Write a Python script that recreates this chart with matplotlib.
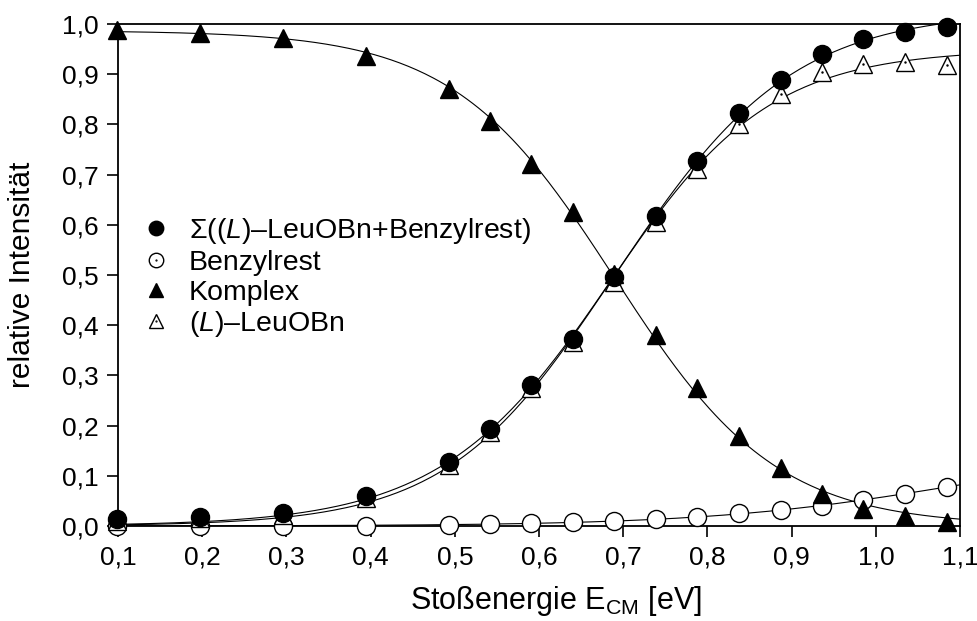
import numpy as np
import matplotlib
matplotlib.use("Agg")
import matplotlib.pyplot as plt
from matplotlib.legend_handler import HandlerTuple

plt.rcParams['font.family'] = ['Liberation Sans', 'DejaVu Sans']
plt.rcParams['mathtext.fontset'] = 'custom'
plt.rcParams['mathtext.rm'] = 'Liberation Sans'
plt.rcParams['mathtext.it'] = 'Liberation Sans:italic'
plt.rcParams['mathtext.default'] = 'regular'

# Collision energies E_CM in eV
energy = [0.0985, 0.197, 0.2955, 0.394, 0.4925, 0.542, 0.591, 0.640, 0.689,
          0.739, 0.788, 0.837, 0.887, 0.936, 0.985, 1.034, 1.084]

# Relative intensities
summe = [0.013, 0.018, 0.026, 0.060, 0.127, 0.193, 0.280, 0.373, 0.495,
         0.618, 0.727, 0.823, 0.889, 0.940, 0.970, 0.984, 0.993]
benzylrest = [0.0, 0.0, 0.0, 0.0, 0.001, 0.004, 0.005, 0.007, 0.010,
              0.014, 0.018, 0.025, 0.032, 0.040, 0.052, 0.064, 0.078]
komplex = [0.988, 0.982, 0.972, 0.937, 0.871, 0.807, 0.721, 0.625, 0.502,
           0.380, 0.275, 0.180, 0.115, 0.063, 0.034, 0.019, 0.008]
leuobn = [0.010, 0.015, 0.022, 0.055, 0.122, 0.188, 0.275, 0.366, 0.487,
          0.606, 0.711, 0.800, 0.860, 0.905, 0.920, 0.924, 0.918]


def sigmoid_fit(x, y):
    # least squares fit of a / (1 + exp(-(x - x0) / b)) by grid search
    x = np.asarray(x)
    y = np.asarray(y)
    best = None
    for x0 in np.linspace(0.2, 2.0, 361):
        for b in np.concatenate([np.linspace(-0.4, -0.02, 96), np.linspace(0.02, 0.4, 96)]):
            f = 1.0 / (1.0 + np.exp(-(x - x0) / b))
            a = f.dot(y) / f.dot(f)
            err = np.sum((a * f - y) ** 2)
            if best is None or err < best[0]:
                best = (err, a, x0, b)
    _, a, x0, b = best
    return lambda t: a / (1.0 + np.exp(-(t - x0) / b))


fig = plt.figure(figsize=(9.78, 6.21), dpi=100)
ax = fig.add_axes([0.1207, 0.153, 0.861, 0.8084])

xs = np.linspace(0.1, 1.1, 300)
for series in [summe, benzylrest, komplex, leuobn]:
    ax.plot(xs, sigmoid_fit(energy, series)(xs), color='black', lw=0.8)

ms = 13
h1, = ax.plot(energy, summe, 'o', color='black', ms=ms, clip_on=False, zorder=4)
h2, = ax.plot(energy, benzylrest, 'o', mfc='white', mec='black', mew=1.0,
              ms=ms, clip_on=False, zorder=3)
h3, = ax.plot(energy, komplex, '^', color='black', ms=ms, clip_on=False, zorder=4)
h4, = ax.plot(energy, leuobn, '^', mfc='white', mec='black', mew=1.0,
              ms=ms, clip_on=False, zorder=3)
d4, = ax.plot(energy, leuobn, '.', color='black', ms=1.5, clip_on=False, zorder=3)
d2, = ax.plot([], [], '.', color='black', ms=1.5)

ax.legend([h1, (h2, d2), h3, (h4, d4)],
          [r'$\Sigma$($\mathit{(L)}$–LeuOBn+Benzylrest)', 'Benzylrest',
           'Komplex', r'$\mathit{(L)}$–LeuOBn'],
          handler_map={tuple: HandlerTuple(ndivide=1, pad=0)},
          loc='upper left', bbox_to_anchor=(-0.002, 0.668), frameon=False,
          fontsize=20.5, handlelength=1.0, handletextpad=0.65, labelspacing=0.13,
          markerscale=0.8)

ax.set_xlim(0.1, 1.1)
ax.set_ylim(0.0, 1.0)
ax.set_xticks(np.arange(0.1, 1.11, 0.1))
ax.set_yticks(np.arange(0.0, 1.01, 0.1))
ax.set_xticklabels([f'{v:.1f}'.replace('.', ',') for v in np.arange(0.1, 1.11, 0.1)])
ax.set_yticklabels([f'{v:.1f}'.replace('.', ',') for v in np.arange(0.0, 1.01, 0.1)])
ax.tick_params(direction='out', length=8, width=1.2, labelsize=19, pad=6)
for s in ax.spines.values():
    s.set_linewidth(1.3)

ax.set_xlabel(r'Stoßenergie E$_{\mathrm{CM}}$ [eV]', fontsize=22)
ax.xaxis.set_label_coords(0.52, -0.116)
ax.set_ylabel('relative Intensität', fontsize=21.5)
ax.yaxis.set_label_coords(-0.097, 0.5)

fig.savefig('out.png', dpi=100)
